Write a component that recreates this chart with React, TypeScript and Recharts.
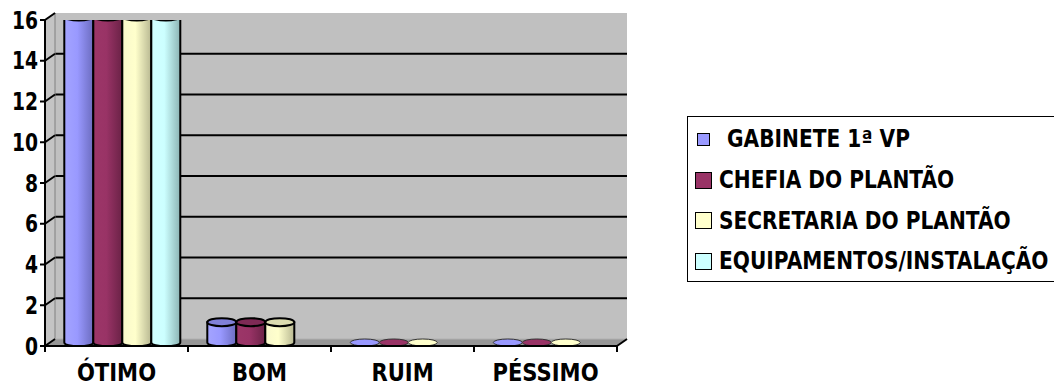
import { FC } from "react"
import { Bar, BarChart, CartesianGrid, Customized, XAxis, YAxis } from "recharts"

const categories: string[] = ['ÓTIMO', 'BOM', 'RUIM', 'PÉSSIMO']
const gabinete: (number | null)[] = [16, 1, 0, 0]
const chefia: (number | null)[] = [16, 1, 0, 0]
const secretaria: (number | null)[] = [16, 1, 0, 0]
const equipamentos: (number | null)[] = [16, null, null, null]
const seriesNames: string[] = [' GABINETE 1ª VP', 'CHEFIA DO PLANTÃO', 'SECRETARIA DO PLANTÃO', 'EQUIPAMENTOS/INSTALAÇÃO']
const yTicks: number[] = [0, 2, 4, 6, 8, 10, 12, 14, 16]

const KEYS = ['gab', 'che', 'sec', 'equ']
const COLORS = [
	{ base: '#9999FF', light: '#a4a4ff', dark: '#6c6cc0', top: '#8080d8' },
	{ base: '#993366', light: '#9c3668', dark: '#6a2246', top: '#7e2a55' },
	{ base: '#FFFFCC', light: '#f8f8cc', dark: '#b8b892', top: '#dcdcb0' },
	{ base: '#CCFFFF', light: '#d2ffff', dark: '#8cb4b4', top: '#a6d8d8' },
]

const data = categories.map((name, i) => ({
	name,
	gab: gabinete[i],
	che: chefia[i],
	sec: secretaria[i],
	equ: equipamentos[i],
}))

const FONT = "'DejaVu Sans', sans-serif"
const W = 1054
const H = 385
const LEFT = 45
const TOP = 20
const RIGHT_M = 437
const XAXIS_H = 39
const PLOT_W = W - LEFT - RIGHT_M
const BOTTOM = H - XAXIS_H
const DX = 10
const DY = -7
const BAND = PLOT_W / categories.length

// left wall + floor; back wall comes from the grid
const Walls: FC = () => (
	<g>
		<defs>
			{COLORS.map((c, i) => (
				<linearGradient key={i} id={`cyl-${i}`} x1="0" y1="0" x2="1" y2="0">
					<stop offset="0%" stopColor={c.light} />
					<stop offset="45%" stopColor={c.base} />
					<stop offset="100%" stopColor={c.dark} />
				</linearGradient>
			))}
		</defs>
		<polygon points={`${LEFT},${TOP} ${LEFT + DX},${TOP + DY} ${LEFT + DX},${BOTTOM + DY} ${LEFT},${BOTTOM}`}
			fill="#c4c4c4" stroke="#808080" strokeWidth={1} />
		<polygon points={`${LEFT},${BOTTOM} ${LEFT + PLOT_W},${BOTTOM} ${LEFT + PLOT_W + DX},${BOTTOM + DY} ${LEFT + DX},${BOTTOM + DY}`}
			fill="#969696" stroke="#b0b0b0" strokeWidth={1} />
		<line x1={LEFT + PLOT_W} y1={BOTTOM} x2={LEFT + PLOT_W + DX} y2={BOTTOM + DY} stroke="#000" strokeWidth={2} />
	</g>
)

const makeCylinder = (key: string, idx: number) => (props: any) => {
	const { x, y, width, height, payload } = props
	if (payload == null || payload[key] == null) return <g />
	const c = COLORS[idx]
	const left = x + DX / 2
	const top = y + DY / 2
	const bot = y + height + DY / 2
	const rx = width / 2
	const ry = 4
	if (height < 1) {
		return <ellipse cx={left + rx} cy={bot} rx={rx} ry={ry - 0.5} fill={c.base} stroke="#333" strokeWidth={1} />
	}
	return (
		<g>
			<path d={`M${left},${top} L${left},${bot} A${rx},${ry} 0 0 0 ${left + width},${bot} L${left + width},${top} Z`}
				fill={`url(#cyl-${idx})`} stroke="#000" strokeWidth={2} />
			<ellipse cx={left + rx} cy={top} rx={rx} ry={ry} fill={c.top} stroke="#000" strokeWidth={2} />
		</g>
	)
}

const gridLine = (props: any) => {
	const { x1, y1, x2, y2 } = props
	if (Math.abs(y1 - BOTTOM) < 1 || Math.abs(y1 - TOP) < 1) return <g key={props.key} />
	return <line key={props.key} x1={x1} y1={y1 + DY} x2={x2} y2={y2 + DY} stroke="#000" strokeWidth={2} />
}

const Label: FC<{ x: number, y: number, sx: number, anchor: 'start' | 'middle' | 'end', children: any }> = ({ x, y, sx, anchor, children }) => (
	<g transform={`translate(${x},${y}) scale(${sx},1)`}>
		<text x={0} y={0} textAnchor={anchor} fontFamily={FONT} fontWeight="bold" fontSize={24} fill="#000">{children}</text>
	</g>
)

const YTick = (props: any) => {
	const { x, y, payload } = props
	return (
		<g>
			<line x1={x - 5} y1={y} x2={x} y2={y} stroke="#000" strokeWidth={2} />
			<line x1={x} y1={y} x2={x + DX} y2={y + DY} stroke="#000" strokeWidth={2} />
			<Label x={x - 7} y={y + 8.5} sx={0.78} anchor="end">{payload.value}</Label>
		</g>
	)
}

const XTick = (props: any) => {
	const { x, payload, index } = props
	return (
		<g>
			<line x1={x - BAND / 2} y1={BOTTOM} x2={x - BAND / 2} y2={BOTTOM + 6} stroke="#000" strokeWidth={2} />
			{index === categories.length - 1 && (
				<line x1={x + BAND / 2} y1={BOTTOM} x2={x + BAND / 2} y2={BOTTOM + 6} stroke="#000" strokeWidth={2} />
			)}
			<Label x={x} y={BOTTOM + 35} sx={0.88} anchor="middle">{payload.value}</Label>
		</g>
	)
}

const LegendBox: FC = () => (
	<div style={{
		position: 'absolute', left: 687, top: 116,
		borderLeft: '1.5px solid #000', borderTop: '1.5px solid #000', borderBottom: '1.5px solid #000',
		width: 367, height: 166, boxSizing: 'border-box', paddingTop: 2, background: '#fff',
	}}>
		{seriesNames.map((name, i) => (
			<div key={i} style={{ display: 'flex', alignItems: 'center', height: 40.7, paddingLeft: i === 0 ? 9 : 7 }}>
				<span style={{
					display: 'inline-block', width: i === 0 ? 11 : 15, height: i === 0 ? 11 : 15, flexShrink: 0,
					background: COLORS[i].base, border: '1.5px solid #000', marginRight: i === 0 ? 17 : 7,
				}} />
				<span style={{
					fontFamily: FONT, fontWeight: 'bold', fontSize: 24, color: '#000', whiteSpace: 'nowrap', lineHeight: 1,
					display: 'inline-block', transform: 'scaleX(0.84)', transformOrigin: 'left center',
				}}>{name.trim()}</span>
			</div>
		))}
	</div>
)

export default function App() {
	return (
		<div style={{ position: 'absolute', left: 0, top: 0, width: W, height: H, overflow: 'hidden', background: '#fff' }}>
			<BarChart width={W} height={H} data={data}
				margin={{ top: TOP, right: RIGHT_M, bottom: 0, left: 0 }}
				barCategoryGap="10%" barGap={0}>
				<CartesianGrid vertical={false} horizontal={gridLine}
					x={LEFT + DX} y={TOP + DY} width={PLOT_W} height={BOTTOM - TOP}
					fill="#c0c0c0" fillOpacity={1} />
				<Customized component={Walls} />
				<XAxis dataKey="name" height={XAXIS_H} tickLine={false} tickSize={0} tickMargin={0}
					axisLine={{ stroke: '#000', strokeWidth: 2 }} tick={<XTick />} interval={0} />
				<YAxis width={LEFT} domain={[0, 16]} ticks={yTicks} tickLine={false} tickSize={0} tickMargin={0}
					axisLine={{ stroke: '#000', strokeWidth: 2 }} tick={<YTick />} interval={0} allowDataOverflow />
				{KEYS.map((k, i) => (
					<Bar key={k} dataKey={k} name={seriesNames[i]} fill={COLORS[i].base}
						isAnimationActive={false} shape={makeCylinder(k, i)} />
				))}
			</BarChart>
			<LegendBox />
		</div>
	)
}
